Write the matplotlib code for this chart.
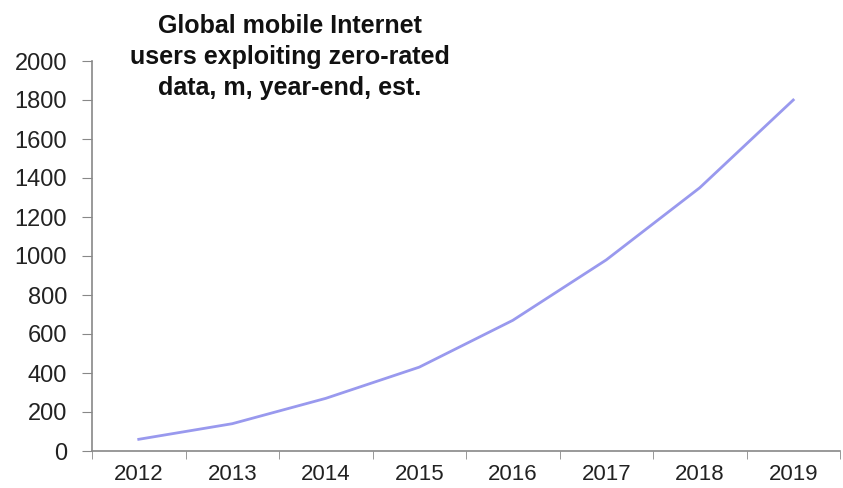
import numpy as np
import matplotlib.pyplot as plt

plt.rcParams['font.family'] = ['Liberation Sans', 'DejaVu Sans']

# data
years = ["2012", "2013", "2014", "2015", "2016", "2017", "2018", "2019"]
users = [60, 140, 270, 430, 670, 980, 1350, 1800]

fig = plt.figure(figsize=(8.43, 4.88), dpi=100)
ax = fig.add_axes([92 / 843, 1 - 451 / 488, 748 / 843, 390 / 488])

x = np.arange(len(years))
ax.plot(x, users, color="#9999ee", linewidth=2)

ax.set_ylim(0, 2000)
ax.set_yticks(np.arange(0, 2001, 200))
ax.set_xlim(-0.5, len(years) - 0.5)
ax.set_xticks(x)
ax.set_xticklabels(years)
ax.set_xticks(np.arange(-0.5, len(years), 1), minor=True)
ax.tick_params(axis="x", which="major", length=0, pad=9, labelsize=16)
ax.tick_params(axis="x", which="minor", length=6, color="#888888", direction="out")
ax.tick_params(axis="y", length=7, color="#888888", pad=11, labelsize=17)
ax.tick_params(labelcolor="#222222")

for s in ["top", "right"]:
    ax.spines[s].set_visible(False)
for s in ["left", "bottom"]:
    ax.spines[s].set_color("#888888")
    ax.spines[s].set_linewidth(1.2)

fig.text(290 / 843, 1 - 14 / 488,
         "Global mobile Internet\nusers exploiting zero-rated\ndata, m, year-end, est.",
         ha="center", va="top", fontsize=18, fontweight="bold",
         linespacing=1.38, color="#111111")

fig.savefig("out.png", dpi=100)
